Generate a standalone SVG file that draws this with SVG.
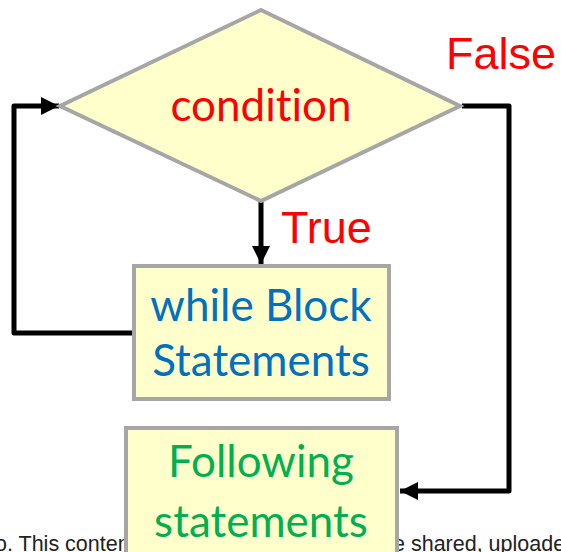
<svg xmlns="http://www.w3.org/2000/svg" width="561" height="552" viewBox="0 0 561 552">
<defs>
<style>
.node{fill:#ffffcc;stroke:#a6a6a6;stroke-width:4;stroke-linejoin:miter}
.cal{font-family:Lato,"Open Sans","DejaVu Sans",sans-serif;font-size:44px;text-anchor:middle;font-variant-ligatures:none;font-feature-settings:"liga" 0}
.ar{font-family:"Liberation Sans",Arial,sans-serif;fill:#ff0000;font-size:45px}
.foot{font-family:"Liberation Sans",Arial,sans-serif;font-size:21.5px;fill:#222}
.edge{fill:none;stroke:#000;stroke-width:5;stroke-linejoin:round}
</style>
<marker id="ah" viewBox="0 0 10 10" refX="10" refY="5" markerWidth="3.6" markerHeight="3.6" markerUnits="strokeWidth" orient="auto">
<path d="M0,0 L10,5 L0,10 z" fill="#000"/>
</marker>
</defs>
<text class="foot" x="-5" y="551">o. This conten</text>
<text class="foot" x="393" y="551">e shared, uploade</text>
<g id="connectors">
<path class="edge" d="M261,202 V264" marker-end="url(#ah)"/>
<path class="edge" d="M132,333 H14 V106 H59" marker-end="url(#ah)"/>
<path class="edge" d="M462,106 H509 V491 H400" marker-end="url(#ah)"/>
</g>
<g id="condition">
<polygon class="node" points="261,10 460,106 261,201 60,106"/>
<text class="cal" x="261" y="121" fill="#ff0000">condition</text>
</g>
<g id="while-block">
<rect class="node" x="134" y="266" width="255" height="133"/>
<text class="cal" x="261" y="321" fill="#0070c0">while Block</text>
<text class="cal" x="261" y="376" fill="#0070c0">Statements</text>
</g>
<g id="following">
<rect class="node" x="126" y="428" width="271" height="140"/>
<text class="cal" x="261" y="477" fill="#00b050">Following</text>
<text class="cal" x="261" y="537" fill="#00b050">statements</text>
</g>
<text class="ar" x="446" y="69">False</text>
<text class="ar" x="281" y="243">True</text>
</svg>
